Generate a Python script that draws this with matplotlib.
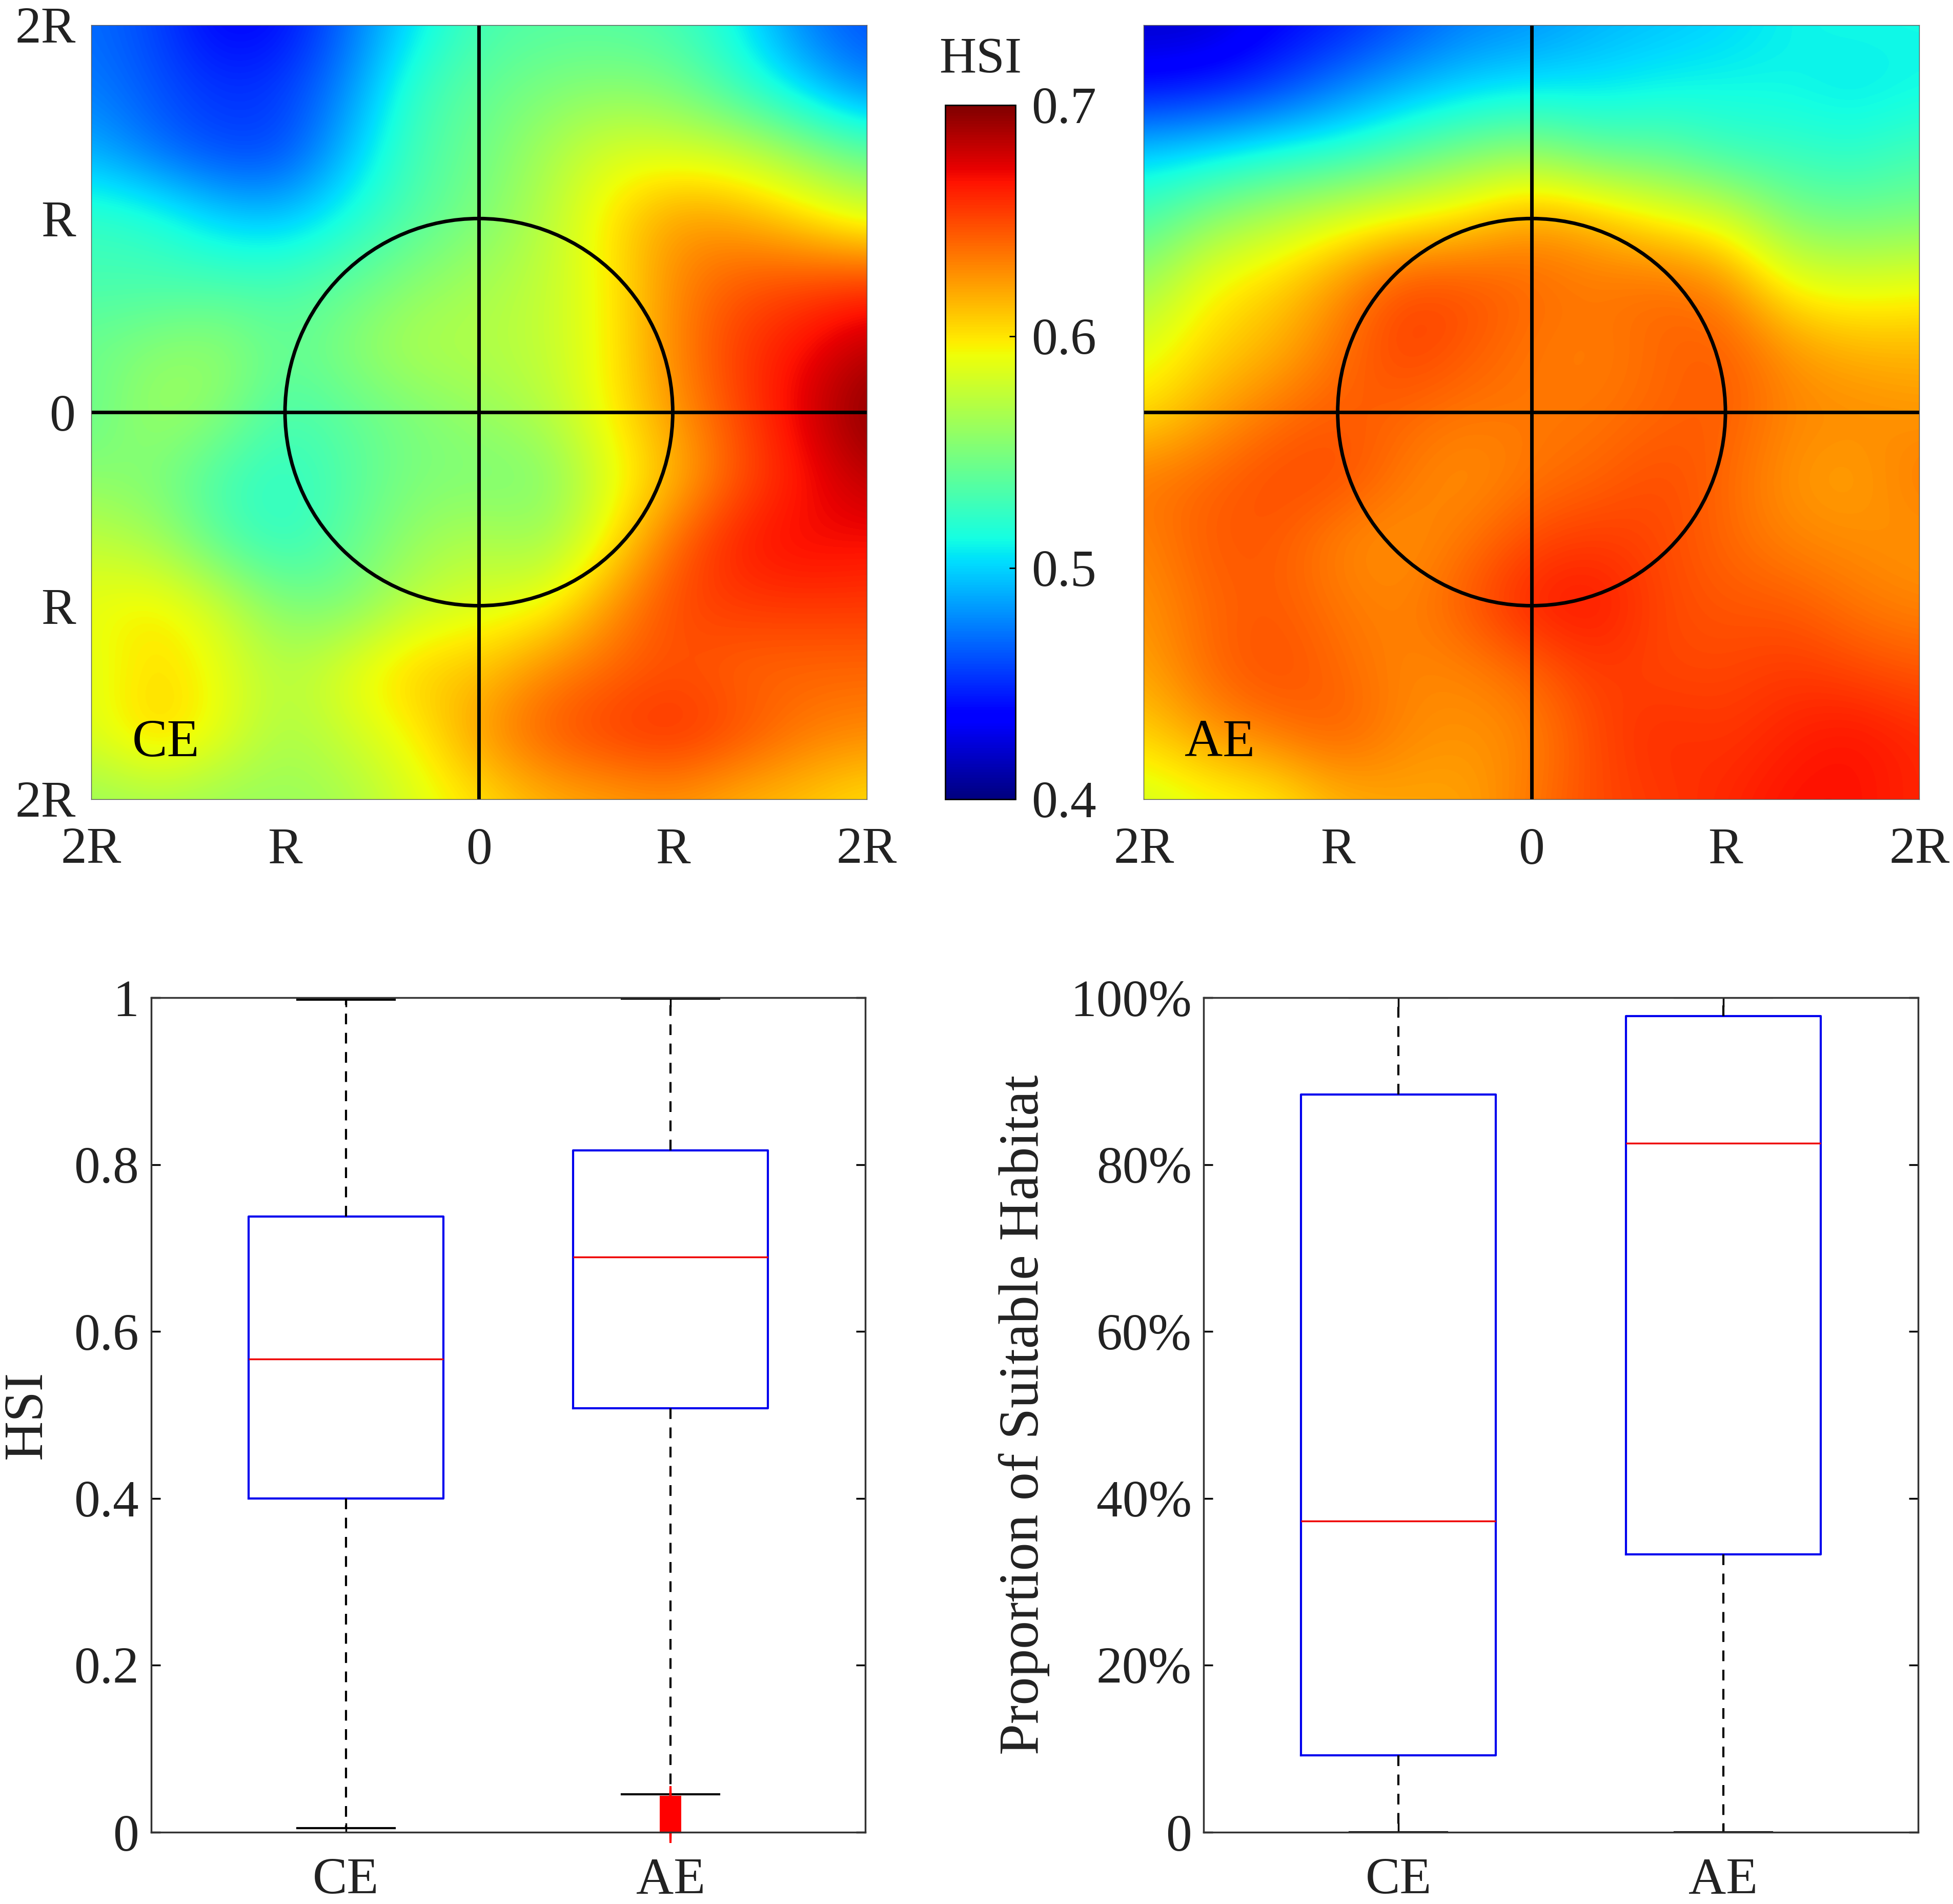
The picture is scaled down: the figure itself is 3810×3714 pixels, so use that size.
import numpy as np
import matplotlib
matplotlib.use('Agg')
import matplotlib.pyplot as plt
from matplotlib.patches import Circle

plt.rcParams['font.family'] = ['Liberation Serif', 'DejaVu Serif']

# mean HSI, top row first, columns/rows every R/3
ce_hsi = [
    [.470, .458, .435, .440, .470, .505, .530, .535, .535, .530, .510, .475, .460],
    [.475, .462, .452, .455, .480, .525, .540, .550, .555, .550, .525, .500, .475],
    [.490, .470, .458, .458, .495, .530, .545, .565, .585, .585, .580, .560, .540],
    [.525, .520, .500, .495, .515, .535, .550, .570, .600, .625, .620, .605, .585],
    [.530, .530, .530, .530, .540, .555, .565, .575, .595, .630, .645, .650, .655],
    [.545, .555, .560, .540, .555, .570, .570, .575, .595, .630, .655, .668, .685],
    [.540, .565, .555, .530, .540, .550, .560, .570, .595, .625, .650, .675, .700],
    [.555, .550, .530, .520, .535, .550, .550, .550, .585, .612, .645, .665, .685],
    [.575, .565, .535, .520, .540, .560, .570, .560, .595, .640, .665, .672, .668],
    [.590, .600, .580, .550, .550, .575, .585, .590, .625, .650, .655, .655, .655],
    [.585, .605, .590, .570, .590, .610, .610, .630, .640, .648, .640, .640, .640],
    [.585, .610, .590, .565, .580, .595, .625, .645, .655, .660, .650, .635, .630],
    [.560, .565, .560, .560, .565, .585, .600, .615, .620, .625, .615, .610, .600],
]
ae_hsi = [
    [.420, .420, .435, .445, .460, .475, .480, .490, .495, .500, .510, .512, .512],
    [.440, .445, .455, .475, .490, .500, .505, .505, .510, .512, .510, .505, .510],
    [.500, .505, .515, .520, .535, .550, .560, .540, .540, .525, .525, .520, .530],
    [.530, .555, .570, .585, .595, .605, .625, .615, .595, .585, .550, .545, .550],
    [.560, .595, .605, .625, .650, .648, .640, .635, .640, .630, .590, .585, .590],
    [.585, .605, .615, .635, .655, .645, .635, .632, .640, .645, .625, .615, .615],
    [.600, .620, .635, .645, .640, .635, .635, .635, .640, .645, .630, .630, .625],
    [.635, .640, .650, .650, .635, .625, .635, .640, .650, .640, .625, .620, .635],
    [.630, .645, .645, .630, .625, .635, .650, .655, .650, .640, .630, .628, .625],
    [.625, .640, .645, .635, .630, .645, .665, .668, .650, .645, .645, .635, .630],
    [.620, .640, .650, .640, .630, .630, .640, .655, .650, .650, .655, .650, .645],
    [.605, .625, .635, .645, .630, .625, .630, .650, .660, .655, .662, .668, .660],
    [.580, .590, .595, .615, .620, .620, .635, .650, .655, .660, .668, .668, .660],
]

groups = ['CE', 'AE']
r_ticks = [-2, -1, 0, 1, 2]
r_labels = ['2R', 'R', '0', 'R', '2R']
cbar_ticks = [0.4, 0.5, 0.6, 0.7]

# whisker low, q1, median, q3, whisker high
hsi_low = [0.005, 0.045]
hsi_q1 = [0.400, 0.508]
hsi_med = [0.567, 0.689]
hsi_q3 = [0.738, 0.817]
hsi_high = [0.998, 0.999]
hsi_outliers_ae = [0.000, 0.002, 0.004, 0.006, 0.008, 0.010, 0.012, 0.014, 0.016, 0.018, 0.020,
                   0.022, 0.024, 0.026, 0.028, 0.030, 0.032, 0.034, 0.036, 0.038, 0.040, 0.042]
hsi_ticks = [0, 0.2, 0.4, 0.6, 0.8, 1]
hsi_ticklabels = ['0', '0.2', '0.4', '0.6', '0.8', '1']

prop_low = [0, 0]
prop_q1 = [9.2, 33.3]
prop_med = [37.3, 82.6]
prop_q3 = [88.4, 97.8]
prop_high = [100, 100]
prop_ticks = [0, 20, 40, 60, 80, 100]
prop_ticklabels = ['0', '20%', '40%', '60%', '80%', '100%']

W, H = 1564.0, 1524.6  # coordinates used for placing the panels
FS = 73
TXT = '#222222'

fig = plt.figure(figsize=(38.1, 37.14), dpi=100)


def add_ax(x0, y0, x1, y1):
    return fig.add_axes([x0 / W, 1 - y1 / H, (x1 - x0) / W, (y1 - y0) / H])


def heat(ax, values, name, show_y):
    n = len(values)
    h = 4.0 / (n - 1)
    im = ax.imshow(values, cmap='jet', vmin=0.4, vmax=0.7, interpolation='bicubic',
                   extent=[-2 - h / 2, 2 + h / 2, -2 - h / 2, 2 + h / 2], aspect='auto')
    ax.set_xlim(-2, 2)
    ax.set_ylim(-2, 2)
    ax.axhline(0, color='k', lw=5)
    ax.axvline(0, color='k', lw=5)
    ax.add_patch(Circle((0, 0), 1, fill=False, ec='k', lw=5))
    ax.set_xticks(r_ticks)
    ax.set_xticklabels(r_labels)
    ax.set_yticks(r_ticks)
    if show_y:
        ax.set_yticklabels(r_labels)
    else:
        ax.set_yticklabels([])
    ax.tick_params(length=0, labelsize=FS, labelcolor=TXT, pad=39)
    ax.tick_params(axis='y', pad=22)
    for s in ax.spines.values():
        s.set_linewidth(1)
        s.set_color('#555555')
    ax.text(-1.79, -1.71, name, fontsize=74, color='k', va='center')
    return im


ax1 = add_ax(73, 20, 694, 640)
im = heat(ax1, ce_hsi, 'CE', True)
ax2 = add_ax(916, 20, 1537, 640)
heat(ax2, ae_hsi, 'AE', False)

cax = add_ax(757, 84, 813, 640)
cb = fig.colorbar(im, cax=cax, ticks=cbar_ticks)
cb.ax.tick_params(direction='in', length=9, width=2, labelsize=FS, labelcolor=TXT, pad=23)
cb.outline.set_linewidth(2)
cb.ax.set_yticklabels(['%.1f' % t for t in cbar_ticks])
fig.text(785 / W, 1 - 48 / H, 'HSI', fontsize=72, color=TXT, ha='center', va='center')


def box(ax, low, q1, med, q3, high, outliers):
    stats = []
    for i in range(2):
        stats.append(dict(label=groups[i], whislo=low[i], q1=q1[i], med=med[i], q3=q3[i],
                          whishi=high[i], fliers=outliers[i]))
    ax.bxp(stats, positions=[1, 2], widths=0.6, capwidths=0.3, showfliers=True,
           boxprops=dict(color='#0000ee', lw=3),
           medianprops=dict(color='#ee0000', lw=2.5),
           whiskerprops=dict(color='k', lw=3, linestyle=(0, (5, 4))),
           capprops=dict(color='k', lw=3),
           flierprops=dict(marker='+', markeredgecolor='#ff0000', markersize=30,
                           markeredgewidth=3, clip_on=False))
    ax.set_xlim(0.4, 2.6)
    ax.tick_params(direction='in', length=13, width=2.5, right=True, top=True,
                   labelsize=FS, labelcolor=TXT)
    ax.tick_params(axis='x', pad=36)
    ax.tick_params(axis='y', pad=17)
    for s in ax.spines.values():
        s.set_linewidth(2.5)
        s.set_color('#333333')


ax3 = add_ax(121, 799, 693, 1467)
box(ax3, hsi_low, hsi_q1, hsi_med, hsi_q3, hsi_high, [[], hsi_outliers_ae])
ax3.set_ylim(0, 1)
ax3.set_yticks(hsi_ticks)
ax3.set_yticklabels(hsi_ticklabels)
fig.text(22 / W, 1 - 1133 / H, 'HSI', fontsize=77, color=TXT, rotation=90, ha='center', va='center')

ax4 = add_ax(964, 799, 1536, 1467)
box(ax4, prop_low, prop_q1, prop_med, prop_q3, prop_high, [[], []])
ax4.set_ylim(0, 100)
ax4.set_yticks(prop_ticks)
ax4.set_yticklabels(prop_ticklabels)
fig.text(820 / W, 1 - 1133 / H, 'Proportion of Suitable Habitat', fontsize=79, color=TXT,
         rotation=90, ha='center', va='center')

fig.savefig('out.png', dpi=100, facecolor='white')
